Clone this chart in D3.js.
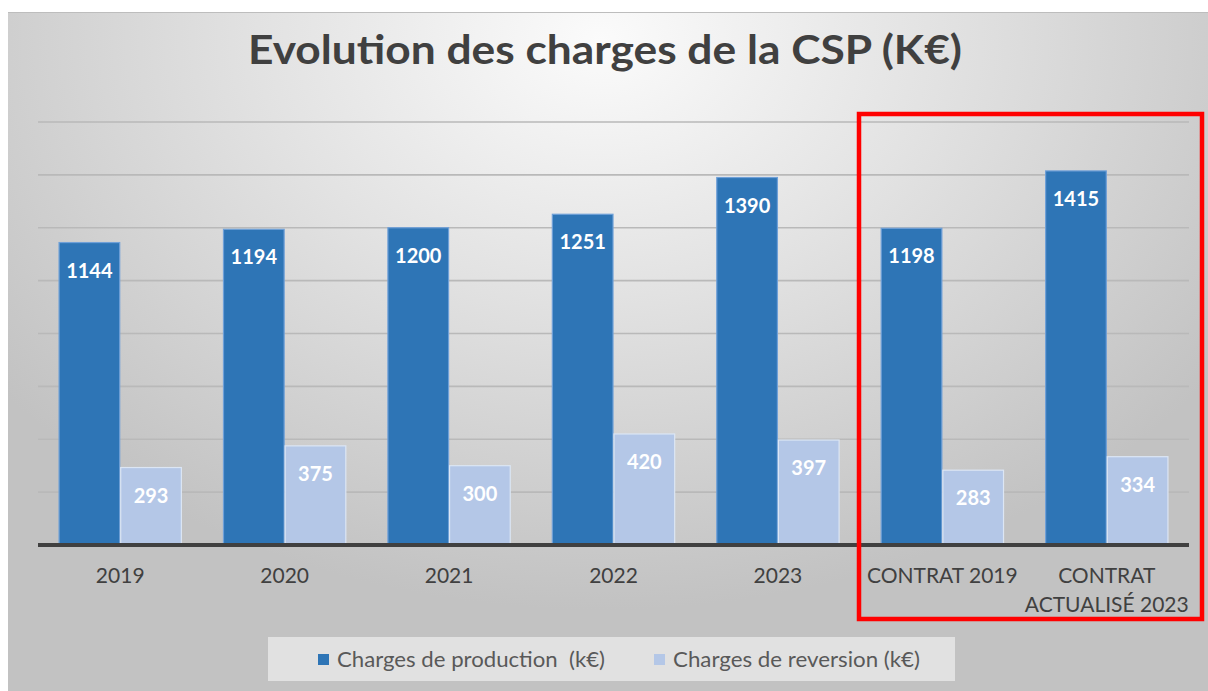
<!DOCTYPE html>
<html><head><meta charset="utf-8">
<script src="https://cdn.jsdelivr.net/npm/d3@7"></script>
<style>html,body{margin:0;padding:0;background:#fff;}svg{display:block;}text{white-space:pre;}</style>
</head><body>
<svg id="c" width="1208" height="691"></svg>
<script>
const categories = ["2019","2020","2021","2022","2023","CONTRAT 2019","CONTRAT ACTUALISÉ 2023"];
const categoryLines = [["2019"],["2020"],["2021"],["2022"],["2023"],["CONTRAT 2019"],["CONTRAT","ACTUALISÉ 2023"]];
const seriesNames = ["Charges de production  (k€)","Charges de reversion (k€)"];
const production = [1144,1194,1200,1251,1390,1198,1415];
const reversion = [293,375,300,420,397,283,334];
const gridTicks = [200,400,600,800,1000,1200,1400,1600];
const titleText = "Evolution des charges de la CSP (K€)";

const svg = d3.select("#c");
const W = 1208, H = 691;
const font = "Lato, 'Open Sans', sans-serif";

const defs = svg.append("defs");
const rg = defs.append("radialGradient").attr("id","bg")
  .attr("gradientUnits","userSpaceOnUse")
  .attr("cx",600).attr("cy",40).attr("r",760)
  .attr("gradientTransform","translate(600,40) scale(1,0.75) translate(-600,-40)");
rg.append("stop").attr("offset","0").attr("stop-color","#fbfbfb");
rg.append("stop").attr("offset","0.45").attr("stop-color","#e2e2e2");
rg.append("stop").attr("offset","1").attr("stop-color","#c2c2c2");

svg.append("rect").attr("x",8).attr("y",12).attr("width",W-8).attr("height",H-12)
  .attr("fill","url(#bg)");
svg.append("line").attr("x1",8).attr("x2",W).attr("y1",12.5).attr("y2",12.5)
  .attr("stroke","#bdbdbd").attr("stroke-width",1);

// title
svg.append("text").attr("x",605).attr("y",64).attr("text-anchor","middle")
  .attr("font-family",font).attr("font-weight","bold").attr("font-size",40)
  .attr("fill","#404040").attr("textLength",714).attr("lengthAdjust","spacingAndGlyphs")
  .text(titleText);

const x0 = d3.scaleBand().domain(categories).range([38,1189]).padding(0);
const bw = x0.bandwidth();
const x1 = d3.scaleBand().domain(seriesNames).range([bw*0.125, bw*0.875]).padding(0);
const y = d3.scaleLinear().domain([0,1600]).range([545,122]);

// gridlines
svg.append("g").selectAll("line").data(gridTicks).join("line")
  .attr("x1",38).attr("x2",1189)
  .attr("y1",d=>y(d)).attr("y2",d=>y(d))
  .attr("stroke","#b9b9b9").attr("stroke-width",1.6);

const colors = ["#2E75B6","#B4C7E7"];
const strokes = ["#6FA0D8","#DCE6F4"];
const data = categories.map((c,i)=>({cat:c, vals:[production[i],reversion[i]]}));

const g = svg.append("g");
data.forEach(d=>{
  d.vals.forEach((v,j)=>{
    const bx = x0(d.cat)+x1(seriesNames[j]);
    g.append("rect").attr("x",bx+0.5).attr("y",y(v)).attr("width",x1.bandwidth()-1)
      .attr("height",y(0)-y(v)).attr("fill",colors[j])
      .attr("stroke",strokes[j]).attr("stroke-width",1.2);
    g.append("text").attr("x",bx+x1.bandwidth()/2).attr("y",y(v)+35)
      .attr("text-anchor","middle").attr("font-family",font).attr("font-weight","bold")
      .attr("font-size",20).attr("fill","#ffffff").text(v);
  });
});

// baseline
svg.append("line").attr("x1",38).attr("x2",1189).attr("y1",y(0)).attr("y2",y(0))
  .attr("stroke","#404040").attr("stroke-width",4);

// category labels
categories.forEach((c,i)=>{
  const t = svg.append("text").attr("x",x0(c)+bw/2).attr("y",583).attr("text-anchor","middle")
    .attr("font-family",font).attr("font-size",21).attr("fill","#404040");
  categoryLines[i].forEach((ln,k)=>{
    t.append("tspan").attr("x",x0(c)+bw/2).attr("dy",k===0?0:29).text(ln);
  });
});

// legend
svg.append("rect").attr("x",268).attr("y",637).attr("width",687).attr("height",44)
  .attr("fill","#e4e4e4").attr("opacity",0.9);
const legX = [318,654];
const legLen = [268,247];
seriesNames.forEach((s,j)=>{
  svg.append("rect").attr("x",legX[j]).attr("y",654).attr("width",11).attr("height",11)
    .attr("fill",colors[j]);
  svg.append("text").attr("x",legX[j]+19).attr("y",667).attr("font-family",font)
    .attr("font-size",21).attr("fill","#595959")
    .attr("textLength",legLen[j]).attr("lengthAdjust","spacingAndGlyphs").text(s);
});

// red highlight annotation
svg.append("rect").attr("x",859).attr("y",114).attr("width",343).attr("height",505)
  .attr("fill","none").attr("stroke","#ff0000").attr("stroke-width",4.5);
</script>
</body></html>
